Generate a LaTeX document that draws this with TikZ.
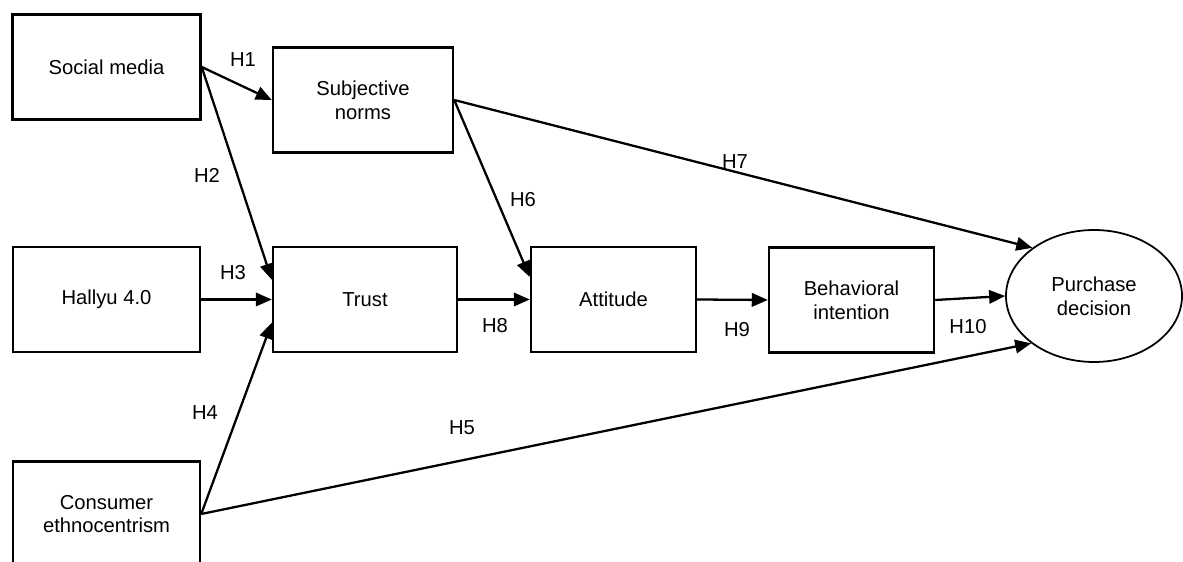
\documentclass[tikz,border=0pt]{standalone}
\usepackage{fontspec}
\setmainfont{Liberation Sans}
\usetikzlibrary{arrows.meta,shapes.geometric}
\tikzset{
  construct/.style={draw,line width=1.4pt,rectangle,align=center,minimum height=2.1cm,
    font=\fontsize{11.5}{13.5}\selectfont},
  outcome/.style={draw,line width=1pt,ellipse,align=center,minimum width=3.52cm,minimum height=2.64cm,
    font=\fontsize{11.5}{13.5}\selectfont},
  path/.style={line width=1.3pt,-{Triangle[length=0.32cm,width=0.27cm]}},
  hyp/.style={font=\fontsize{11.5}{13.5}\selectfont}
}

\begin{document}
\begin{tikzpicture}
\useasboundingbox (0,0) rectangle (23.66,-11.24);
\begin{scope}
\clip (0,0) rectangle (23.66,-11.24);
% constructs
\node[construct,minimum width=3.76cm] (social) at (2.13,-1.34) {Social media};
\node[construct,minimum width=3.6cm] (subj) at (7.26,-2.0) {Subjective\\norms};
\node[construct,minimum width=3.74cm] (hallyu) at (2.13,-5.99) {Hallyu 4.0};
\node[construct,minimum width=3.68cm] (trust) at (7.3,-5.99) {Trust};
\node[construct,minimum width=3.3cm] (attitude) at (12.27,-5.99) {Attitude};
\node[construct,minimum width=3.3cm] (behav) at (17.03,-6.0) {Behavioral\\intention};
\node[construct,minimum width=3.74cm] (consumer) at (2.13,-10.28) {Consumer\\ethnocentrism};
\node[outcome] (purchase) at (21.88,-5.92) {Purchase\\decision};
\end{scope}
% hypothesised paths
\draw[path] (social.east) -- (subj.west);
\draw[path] (social.east) -- (trust.168);
\draw[path] (hallyu.east) -- (trust.west);
\draw[path] (consumer.east) -- (trust.194);
\draw[path] (consumer.east) -- (purchase.217);
\draw[path] (subj.east) -- (attitude.165);
\draw[path] (subj.east) -- (purchase.142);
\draw[path] (trust.east) -- (attitude.west);
\draw[path] (attitude.east) -- (behav.west);
\draw[path] (behav.east) -- (purchase.west);
% labels
\node[hyp] (h1) at (4.86,-1.2) {H1};
\node[hyp] (h2) at (4.14,-3.5) {H2};
\node[hyp] (h3) at (4.66,-5.46) {H3};
\node[hyp] (h4) at (4.1,-8.26) {H4};
\node[hyp] (h5) at (9.24,-8.56) {H5};
\node[hyp] (h6) at (10.46,-4.0) {H6};
\node[hyp] (h7) at (14.7,-3.24) {H7};
\node[hyp] (h8) at (9.9,-6.52) {H8};
\node[hyp] (h9) at (14.74,-6.6) {H9};
\node[hyp] (h10) at (19.36,-6.54) {H10};
\end{tikzpicture}
\end{document}
